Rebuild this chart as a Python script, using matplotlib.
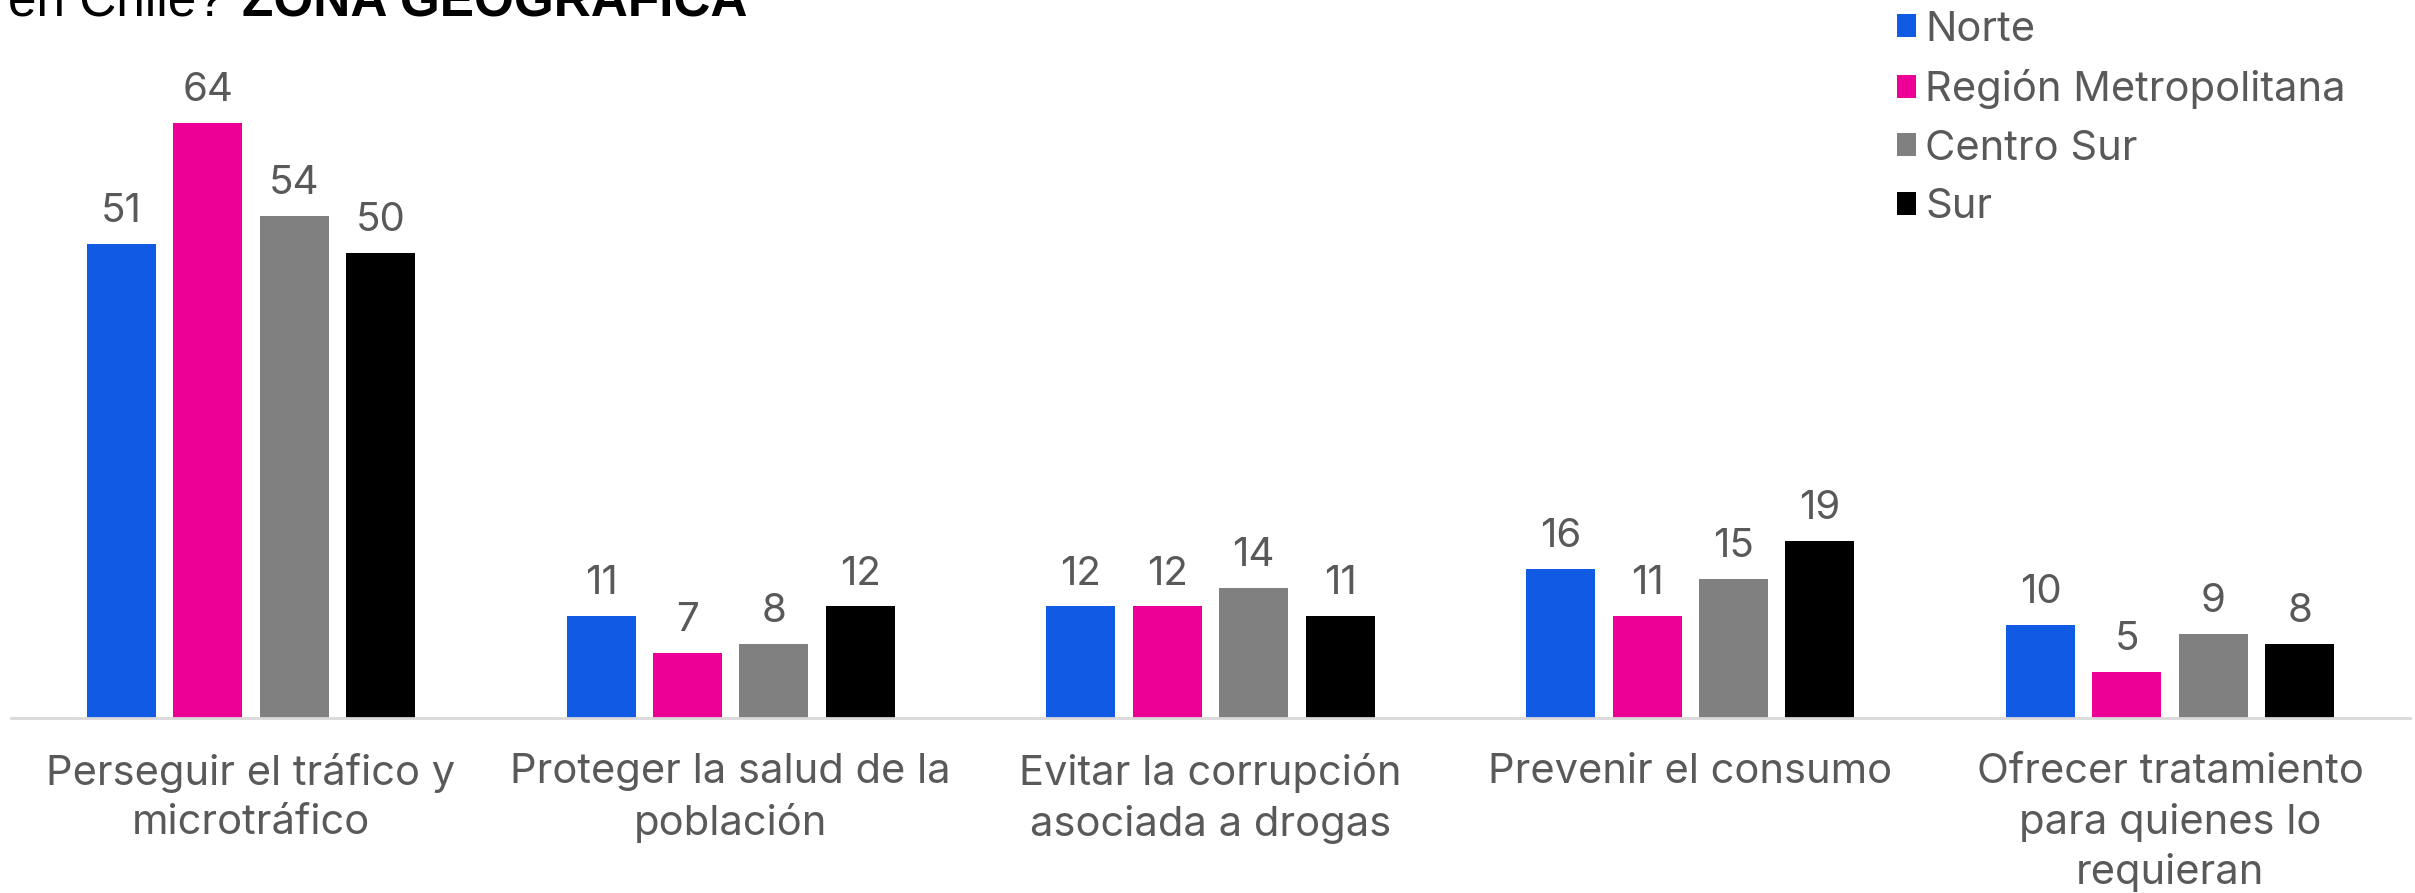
# Bar chart: objetivo de la política de drogas por zona geográfica

import matplotlib
matplotlib.use('Agg')
import matplotlib.pyplot as plt
import numpy as np

categories = ['Perseguir el tráfico y\nmicrotráfico',
              'Proteger la salud de la\npoblación',
              'Evitar la corrupción\nasociada a drogas',
              'Prevenir el consumo',
              'Ofrecer tratamiento\npara quienes lo\nrequieran']
zones = ['Norte', 'Región Metropolitana', 'Centro Sur', 'Sur']
norte = [51, 11, 12, 16, 10]
metropolitana = [64, 7, 12, 11, 5]
centro_sur = [54, 8, 14, 15, 9]
sur = [50, 12, 11, 19, 8]

series = [norte, metropolitana, centro_sur, sur]
colors = ['#105AE4', '#EC0096', '#808080', '#000000']
text_color = '#595959'

plt.rcParams['font.family'] = ['Inter', 'DejaVu Sans']

W, H = 2415, 893
fig = plt.figure(figsize=(W / 100, H / 100), dpi=100)

# axes placed in pixel terms: baseline at y=718, left 11, right 2410
bottom_px = 718
ymax = 70
px_per_unit = 9.3
top_px = bottom_px - ymax * px_per_unit
ax = fig.add_axes([11 / W, (H - bottom_px) / H, (2410 - 11) / W, (bottom_px - top_px) / H])

x = np.arange(len(categories))
bar_w = 0.144
pitch = 0.18
offsets = (np.arange(4) - 1.5) * pitch

for i, (vals, zone) in enumerate(zip(series, zones)):
    bars = ax.bar(x + offsets[i], vals, bar_w, color=colors[i], label=zone)
    for b, v in zip(bars, vals):
        ax.annotate(str(v), (b.get_x() + b.get_width() / 2, v),
                    xytext=(0, 10), textcoords='offset points',
                    ha='center', va='bottom', fontsize=29, color=text_color)

ax.set_xlim(-0.5, len(categories) - 0.5)
ax.set_ylim(0, ymax)
ax.set_yticks([])
ax.set_xticks(x)
ax.set_xticklabels(categories, fontsize=30, color=text_color, linespacing=1.38)
ax.tick_params(axis='x', length=0, pad=25)
for s in ['top', 'right', 'left']:
    ax.spines[s].set_visible(False)
ax.spines['bottom'].set_color('#D9D9D9')
ax.spines['bottom'].set_linewidth(2)

leg = fig.legend(loc='upper left', bbox_to_anchor=(1880 / W, 1.0 + 6 / H),
                 frameon=False, fontsize=30, handlelength=0.47, handleheight=0.47,
                 handletextpad=0.22, labelspacing=0.49, borderaxespad=0)
for t in leg.get_texts():
    t.set_color(text_color)

# title, mostly cut off at the top of the image
fig.text(8 / W, (H - 15) / H, 'en Chile? ', fontsize=37, family='Liberation Sans',
         ha='left', va='baseline', color='black')
fig.text(242 / W, (H - 15) / H, 'ZONA GEOGRÁFICA', fontsize=37, family='Liberation Sans',
         fontweight='bold', ha='left', va='baseline', color='black')

fig.savefig('out.png', dpi=100, facecolor='white')
